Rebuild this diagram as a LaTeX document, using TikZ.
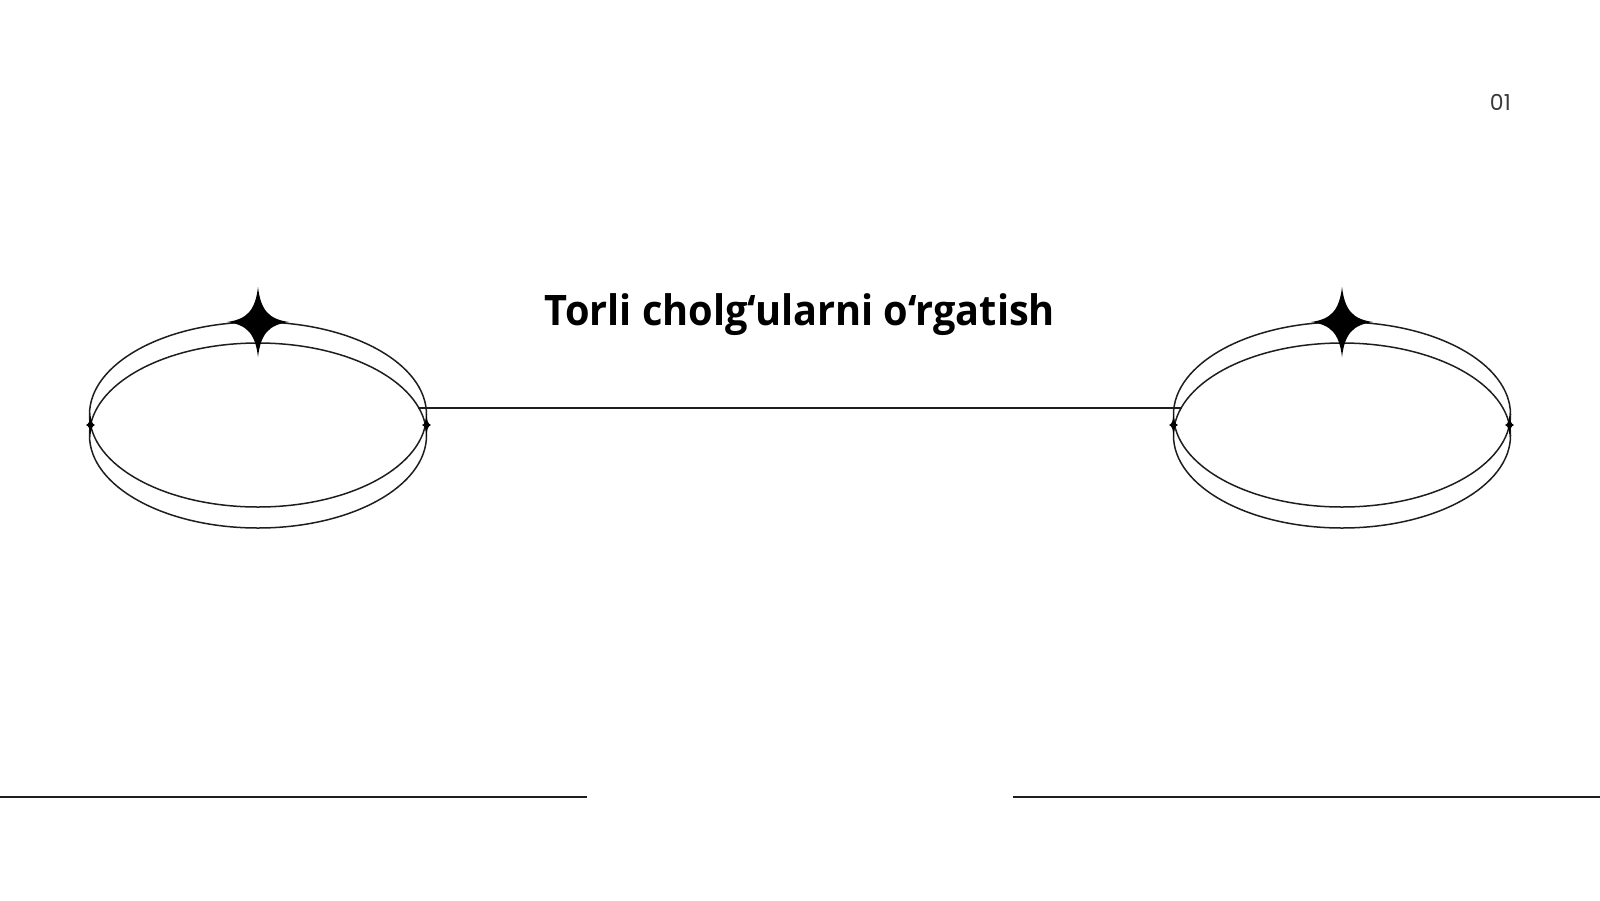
\documentclass[tikz,border=0pt]{standalone}
\usepackage{fontspec}
\setmainfont{Open Sans}
\newfontfamily\numfont{Poppins}
\usetikzlibrary{shapes.geometric}
\definecolor{ink}{HTML}{1E1E1E}
\definecolor{numgray}{HTML}{3A3A3A}
\tikzset{
  ring/.style={draw=ink, line width=1.5pt, ellipse, minimum width=337pt, minimum height=185pt, inner sep=0pt},
  rule/.style={draw=ink, line width=1.6pt},
  sparkle/.style={fill=black, draw=none},
}
\newcommand{\sparklepath}[4]{% x y halfwidth halfheight
  \fill[sparkle] (#1,#2-#4) .. controls (#1+0.09*#3,#2-0.32*#4) and (#1+0.36*#3,#2-0.08*#4) .. (#1+#3,#2)
    .. controls (#1+0.36*#3,#2+0.08*#4) and (#1+0.09*#3,#2+0.32*#4) .. (#1,#2+#4)
    .. controls (#1-0.09*#3,#2+0.32*#4) and (#1-0.36*#3,#2+0.08*#4) .. (#1-#3,#2)
    .. controls (#1-0.36*#3,#2-0.08*#4) and (#1-0.09*#3,#2-0.32*#4) .. cycle;}
\begin{document}
\begin{tikzpicture}[x=1pt,y=-1pt]
\useasboundingbox (0,0) rectangle (1600,900);
% left rings
\node[ring] (LA) at (258,414.5) {};
\node[ring] (LB) at (258,435.5) {};
% right rings
\node[ring] (RA) at (1342,414.5) {};
\node[ring] (RB) at (1342,435.5) {};
% connector
\coordinate (c1) at (418,408);
\coordinate (c2) at (1182,408);
\draw[rule] (c1) -- (c2);
% sparkles
\sparklepath{258}{322}{31}{35}
\sparklepath{1342}{322}{31}{35}
\sparklepath{90.5}{425}{4.5}{12}
\sparklepath{426.5}{425}{4.5}{12}
\sparklepath{1173.5}{425}{4.5}{12}
\sparklepath{1509.5}{425}{4.5}{12}
% title
\node[anchor=base, inner sep=0pt, font=\bfseries\fontsize{42}{50}\selectfont, text=black] (title) at (800,325) {\scalebox{0.945}[1]{Torli cholg‘ularni o‘rgatish}};
% page number
\node[anchor=base east, inner sep=0pt, font=\numfont\fontsize{22}{24}\selectfont, text=numgray] (num) at (1511,110) {01};
% bottom rules
\coordinate (b1) at (0,797);
\coordinate (b2) at (587,797);
\coordinate (b3) at (1013,797);
\coordinate (b4) at (1600,797);
\draw[rule, line width=2pt] (b1) -- (b2);
\draw[rule, line width=2pt] (b3) -- (b4);
\end{tikzpicture}
\end{document}
